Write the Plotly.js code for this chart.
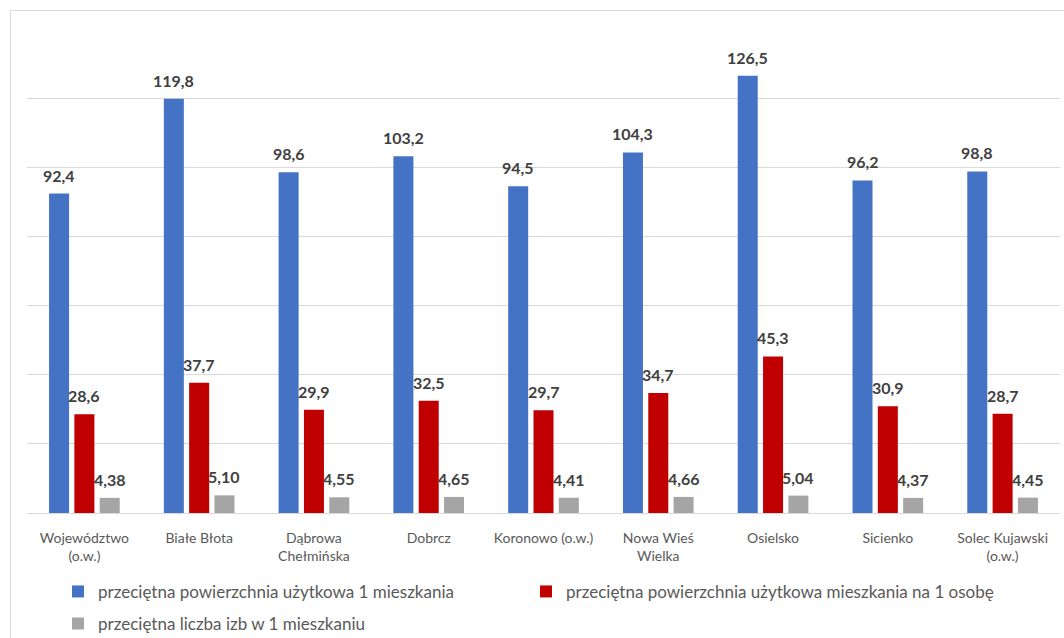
<!DOCTYPE html>
<html>
<head>
<meta charset="utf-8">
<script src="https://cdn.plot.ly/plotly-3.0.1.min.js"></script>
<style>
  html, body { margin: 0; padding: 0; background: #ffffff; overflow: hidden; width: 1064px; height: 638px; }
  #frame { position: absolute; left: 10px; top: 10px; width: 1080px; height: 640px;
           border-left: 1px solid #d9d9d9; border-top: 1px solid #d9d9d9; background: #fff; }
  #chart { width: 1080px; height: 640px; }
</style>
</head>
<body>
<div id="frame"><div id="chart"></div></div>
<script>
// ---- data ----
const categories = [
  'Województwo<br>(o.w.)', 'Białe Błota', 'Dąbrowa<br>Chełmińska', 'Dobrcz',
  'Koronowo (o.w.)', 'Nowa Wieś<br>Wielka', 'Osielsko', 'Sicienko', 'Solec Kujawski<br>(o.w.)'
];
const seriesNames = [
  'przeciętna powierzchnia użytkowa 1 mieszkania',
  'przeciętna powierzchnia użytkowa mieszkania na 1 osobę',
  'przeciętna liczba izb w 1 mieszkaniu'
];
const areaPerDwelling = [92.4, 119.8, 98.6, 103.2, 94.5, 104.3, 126.5, 96.2, 98.8];
const areaPerPerson   = [28.6, 37.7, 29.9, 32.5, 29.7, 34.7, 45.3, 30.9, 28.7];
const roomsPerDwelling = [4.38, 5.10, 4.55, 4.65, 4.41, 4.66, 5.04, 4.37, 4.45];
const yTicks = [0, 20, 40, 60, 80, 100, 120, 140];

const colors = ['#4472C4', '#C00000', '#A5A5A5'];
const fmt = (v, d) => v.toFixed(d).replace('.', ',');
const FONT = 'Lato, "Open Sans", sans-serif';

const W = 1080, H = 640;
const margin = { l: 16, r: 31, t: 18, b: 138, autoexpand: false };
const BARGAP = 0.338, BARGROUPGAP = 0.21;

function barTrace(vals, idx, legend) {
  return {
    type: 'bar',
    name: seriesNames[idx],
    x: categories,
    y: vals,
    marker: { color: colors[idx] },
    hoverinfo: 'skip',
    legend: legend
  };
}

const data = [
  barTrace(areaPerDwelling, 0, 'legend'),
  barTrace(areaPerPerson, 1, 'legend'),
  barTrace(roomsPerDwelling, 2, 'legend2')
];

// value labels placed through the axes (category + value), shifted to each bar's slot
const plotW = W - margin.l - margin.r;
const slot = plotW / categories.length * (1 - BARGAP) / 3;
const series = [[areaPerDwelling, 1], [areaPerPerson, 1], [roomsPerDwelling, 2]];
const annotations = [];
series.forEach(([vals, dec], idx) => {
  vals.forEach((v, i) => {
    annotations.push({
      x: categories[i], y: v, xref: 'x', yref: 'y',
      text: fmt(v, dec), showarrow: false,
      xanchor: 'center', yanchor: 'bottom',
      xshift: (idx - 1) * slot, yshift: 7,
      font: { family: FONT, size: 16, color: '#404040', weight: 'bold' }
    });
  });
});

const legendCommon = {
  orientation: 'h',
  xanchor: 'left',
  yanchor: 'middle',
  font: { family: FONT, size: 17, color: '#595959' },
  entrywidth: 423,
  entrywidthmode: 'pixels',
  itemwidth: 30,
  bgcolor: 'rgba(0,0,0,0)'
};

const layout = {
  width: W,
  height: H,
  margin: margin,
  paper_bgcolor: '#ffffff',
  plot_bgcolor: '#ffffff',
  barmode: 'group',
  bargap: BARGAP,
  bargroupgap: BARGROUPGAP,
  showlegend: true,
  annotations: annotations,
  xaxis: {
    type: 'category',
    showline: true,
    linecolor: '#d9d9d9',
    linewidth: 1,
    showgrid: false,
    ticks: '',
    ticklabelstandoff: 12,
    tickfont: { family: FONT, size: 14, color: '#595959' },
    automargin: false,
    fixedrange: true
  },
  yaxis: {
    range: [0, 140],
    tickvals: yTicks,
    showticklabels: false,
    showgrid: true,
    gridcolor: '#d9d9d9',
    gridwidth: 1,
    zeroline: false,
    showline: false,
    fixedrange: true
  },
  legend: Object.assign({}, legendCommon, { x: 0.03, y: -0.163 }),
  legend2: Object.assign({}, legendCommon, { x: 0.03, y: -0.229 })
};

Plotly.newPlot('chart', data, layout, { displayModeBar: false, staticPlot: true });
</script>
</body>
</html>
